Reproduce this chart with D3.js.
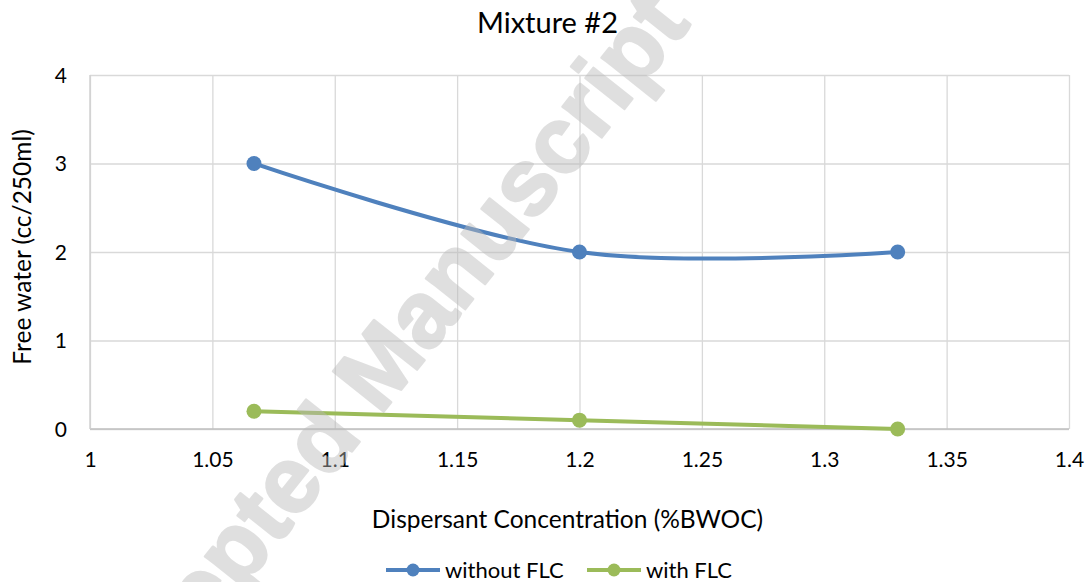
<!DOCTYPE html>
<html>
<head>
<meta charset="utf-8">
<script src="https://cdn.jsdelivr.net/npm/d3@7"></script>
<style>
  html, body { margin: 0; padding: 0; background: #fff; }
  svg { display: block; font-family: Lato, "Open Sans", sans-serif; }
</style>
</head>
<body>
<svg id="chart" width="1091" height="582"></svg>
<script>
// Free water vs. dispersant concentration, Mixture #2
const chartTitle = "Mixture #2";
const xTitle = "Dispersant Concentration (%BWOC)";
const yTitle = "Free water (cc/250ml)";
const watermarkText = "Accepted Manuscript";

const dispersant = [1.067, 1.2, 1.33];
const seriesNames = ["without FLC", "with FLC"];
const withoutFLC = [3, 2, 2];
const withFLC = [0.2, 0.1, 0];
const seriesColors = ["#4f81bd", "#9bbb59"];

const xTicks = [1, 1.05, 1.1, 1.15, 1.2, 1.25, 1.3, 1.35, 1.4];
const xTickLabels = ["1", "1.05", "1.1", "1.15", "1.2", "1.25", "1.3", "1.35", "1.4"];
const yTicks = [0, 1, 2, 3, 4];
const yTickLabels = ["0", "1", "2", "3", "4"];

const svg = d3.select("#chart");
const plot = { left: 90, right: 1069, top: 75, bottom: 429 };

const x = d3.scaleLinear().domain([1, 1.4]).range([plot.left, plot.right]);
const y = d3.scaleLinear().domain([0, 4]).range([plot.bottom, plot.top]);

// gridlines
const grid = svg.append("g");
grid.append("g")
  .attr("transform", `translate(0,${plot.bottom})`)
  .call(d3.axisBottom(x).tickValues(xTicks).tickSize(-(plot.bottom - plot.top)).tickFormat(""))
  .call(g => g.select(".domain").remove())
  .call(g => g.selectAll("line").attr("stroke", "#d9d9d9").attr("stroke-width", 1.3));
grid.append("g")
  .attr("transform", `translate(${plot.left},0)`)
  .call(d3.axisLeft(y).tickValues(yTicks).tickSize(-(plot.right - plot.left)).tickFormat(""))
  .call(g => g.select(".domain").remove())
  .call(g => g.selectAll("line").attr("stroke", "#d9d9d9").attr("stroke-width", 1.3));

// axis lines
svg.append("line")
  .attr("x1", x(1)).attr("x2", x(1.4)).attr("y1", y(0)).attr("y2", y(0))
  .attr("stroke", "#bfbfbf").attr("stroke-width", 1.6);
svg.append("line")
  .attr("x1", x(1)).attr("x2", x(1)).attr("y1", y(0)).attr("y2", y(4))
  .attr("stroke", "#d0d0d0").attr("stroke-width", 1.4);

// tick labels
const xAxis = svg.append("g")
  .attr("transform", `translate(0,${plot.bottom})`)
  .call(d3.axisBottom(x).tickValues(xTicks).tickSize(0).tickPadding(0)
    .tickFormat((d, i) => xTickLabels[i]));
xAxis.select(".domain").remove();
xAxis.selectAll("text")
  .attr("y", 38).attr("dy", 0)
  .attr("font-family", "Lato, sans-serif").attr("font-size", 21).attr("fill", "#000");

const yAxis = svg.append("g")
  .attr("transform", `translate(${plot.left},0)`)
  .call(d3.axisLeft(y).tickValues(yTicks).tickSize(0).tickPadding(0)
    .tickFormat((d, i) => yTickLabels[i]));
yAxis.select(".domain").remove();
yAxis.selectAll("text")
  .attr("x", -23).attr("dy", "0.35em")
  .attr("font-family", "Lato, sans-serif").attr("font-size", 21).attr("fill", "#000");

// titles
svg.append("text")
  .attr("x", 547.5).attr("y", 33)
  .attr("text-anchor", "middle").attr("font-size", 29).attr("fill", "#000")
  .text(chartTitle);
svg.append("text")
  .attr("x", 567.5).attr("y", 528)
  .attr("text-anchor", "middle").attr("font-size", 24.5).attr("fill", "#000")
  .text(xTitle);
svg.append("text")
  .attr("transform", `translate(31,${(plot.top + plot.bottom) / 2 - 5}) rotate(-90)`)
  .attr("text-anchor", "middle").attr("font-size", 24.5).attr("fill", "#000")
  .text(yTitle);

// series
const series = [withoutFLC, withFLC].map((vals, i) => ({
  name: seriesNames[i],
  color: seriesColors[i],
  points: dispersant.map((d, j) => ({ x: d, y: vals[j] }))
}));

const line = d3.line()
  .x(d => x(d.x)).y(d => y(d.y))
  .curve(d3.curveCardinal.tension(0));

const sg = svg.append("g").selectAll("g").data(series).join("g");
sg.append("path")
  .attr("d", d => line(d.points))
  .attr("fill", "none")
  .attr("stroke", d => d.color)
  .attr("stroke-width", 4)
  .attr("stroke-linecap", "round");
sg.selectAll("circle").data(d => d.points.map(p => ({ ...p, color: d.color })))
  .join("circle")
  .attr("cx", d => x(d.x)).attr("cy", d => y(d.y))
  .attr("r", 7.5).attr("fill", d => d.color);

// legend
const legendItems = [
  { x0: 386, x1: 440, tx: 445 },
  { x0: 587, x1: 641, tx: 646 }
];
const lg = svg.append("g").selectAll("g").data(series).join("g");
lg.append("line")
  .attr("x1", (d, i) => legendItems[i].x0).attr("x2", (d, i) => legendItems[i].x1)
  .attr("y1", 570).attr("y2", 570)
  .attr("stroke", d => d.color).attr("stroke-width", 4);
lg.append("circle")
  .attr("cx", (d, i) => (legendItems[i].x0 + legendItems[i].x1) / 2).attr("cy", 570)
  .attr("r", 6.5).attr("fill", d => d.color);
lg.append("text")
  .attr("x", (d, i) => legendItems[i].tx).attr("y", 570).attr("dy", "0.35em")
  .attr("font-size", 22).attr("fill", "#000")
  .text(d => d.name);

// diagonal watermark overlay
svg.append("g")
  .attr("opacity", 0.45)
  .attr("pointer-events", "none")
  .append("text")
  .attr("transform", "translate(100,768) rotate(-51.5)")
  .attr("font-family", "'Liberation Sans', Arial, sans-serif")
  .attr("font-weight", "bold")
  .attr("font-size", 94)
  .attr("fill", "#bababa")
  .attr("stroke", "#bababa")
  .attr("stroke-width", 2.5)
  .attr("stroke-linejoin", "round")
  .text(watermarkText);
</script>
</body>
</html>
